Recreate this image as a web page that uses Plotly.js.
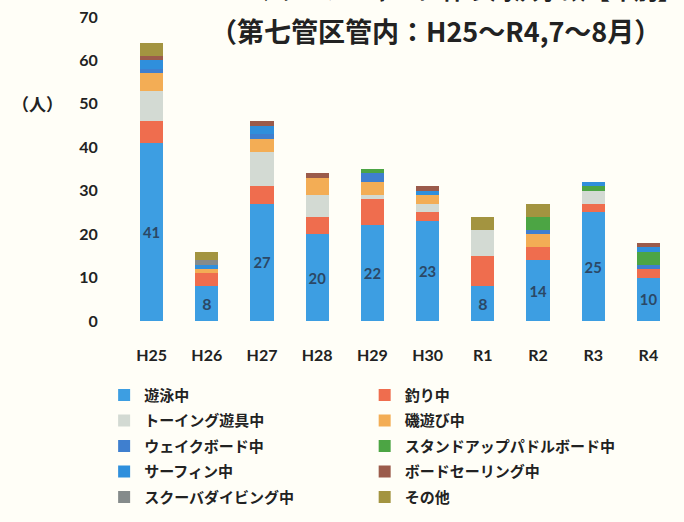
<!DOCTYPE html>
<html><head><meta charset="utf-8">
<script src="https://cdn.plot.ly/plotly-3.0.1.min.js"></script>
<style>html,body{margin:0;padding:0;background:#fffef7;}</style>
</head><body><div id="chart" style="width:684px;height:522px;"></div>
<script>
const years = ['H25','H26','H27','H28','H29','H30','R1','R2','R3','R4'];
const seriesNames = ['遊泳中','釣り中','トーイング遊具中','磯遊び中','ウェイクボード中','スタンドアップパドルボード中','サーフィン中','ボードセーリング中','スクーバダイビング中','その他'];
const swimming     = [41, 8, 27, 20, 22, 23, 8, 14, 25, 10];
const fishing      = [ 5, 3,  4,  4,  6,  2, 7,  3,  2,  2];
const towing       = [ 7, 0,  8,  5,  1,  2, 6,  0,  3,  0];
const isoasobi     = [ 4, 1,  3,  4,  3,  2, 0,  3,  0,  0];
const wakeboard    = [ 1, 0,  1,  0,  2,  0, 0,  1,  0,  1];
const sup          = [ 0, 0,  0,  0,  1,  0, 0,  3,  1,  3];
const surfing      = [ 2, 1,  2,  0,  0,  1, 0,  0,  1,  1];
const boardsailing = [ 1, 0,  1,  1,  0,  1, 0,  0,  0,  1];
const scuba        = [ 0, 1,  0,  0,  0,  0, 0,  0,  0,  0];
const other        = [ 3, 2,  0,  0,  0,  0, 3,  3,  0,  0];
const yTicks = [0,10,20,30,40,50,60,70];

const values = [swimming,fishing,towing,isoasobi,wakeboard,sup,surfing,boardsailing,scuba,other];
const colors = ['#3d9ee2','#ef6d4e','#d3dad3','#f3ad55','#3f7fcf','#4ca544','#2f8fdc','#9b5b4b','#858b8b','#a39440'];

const traces = values.map((v,i)=>({
  type:'bar', x:years, y:v, name:seriesNames[i],
  marker:{color:colors[i], line:{width:0}},
  legend: (i%2===0)?'legend':'legend2',
  legendgroup:'g'+i,
  text: i===0 ? v.map(String) : undefined,
  textposition: i===0 ? 'inside' : 'none',
  insidetextanchor:'middle',
  textfont:{family:'Lato, sans-serif', size:16, weight:'bold', color:'#2b4866'},
  hoverinfo:'x+y+name'
}));

const legendFont = {family:'"Noto Sans CJK JP", sans-serif', size:15, weight:'bold', color:'#222'};
const layout = {
  width:684, height:522,
  paper_bgcolor:'#fffef7', plot_bgcolor:'#fffef7',
  barmode:'stack', bargap:0.58,
  margin:{l:124, r:8, t:17, b:197},
  showlegend:true,
  legend:{x:-0.036, y:-0.19, xanchor:'left', yanchor:'top', orientation:'v', font:legendFont,
          traceorder:'grouped', tracegroupgap:3, bgcolor:'rgba(0,0,0,0)'},
  legend2:{x:0.436, y:-0.19, xanchor:'left', yanchor:'top', orientation:'v', font:legendFont,
          traceorder:'grouped', tracegroupgap:3, bgcolor:'rgba(0,0,0,0)'},
  xaxis:{type:'category', showgrid:false, zeroline:false, showline:false,
         ticks:'outside', ticklen:20, tickcolor:'rgba(0,0,0,0)',
         tickfont:{family:'Lato, sans-serif', size:16, weight:'bold', color:'#222'}},
  yaxis:{range:[0,70], tickvals:yTicks, showgrid:false, zeroline:false, showline:false,
         ticks:'outside', ticklen:22, tickcolor:'rgba(0,0,0,0)',
         tickfont:{family:'Lato, sans-serif', size:16, weight:'bold', color:'#222'}},
  annotations:[
    {text:'（第七管区管内：H25～R4,7～8月）', xref:'paper', yref:'paper', x:0.565, y:0.955,
     xanchor:'center', yanchor:'middle', showarrow:false,
     font:{family:'"Noto Sans CJK JP", sans-serif', size:27, weight:'bold', color:'#222'}},
    {text:'マリンレジャーに伴う海浜事故【年別】', xref:'paper', yref:'paper', x:1.015, y:1.03,
     xanchor:'right', yanchor:'bottom', showarrow:false,
     font:{family:'"Noto Sans CJK JP", sans-serif', size:24, weight:'bold', color:'#222'}},
    {text:'（人）', xref:'paper', yref:'paper', x:-0.156, y:0.715,
     xanchor:'center', yanchor:'middle', showarrow:false,
     font:{family:'"Noto Sans CJK JP", sans-serif', size:17, weight:'bold', color:'#222'}}
  ]
};
Plotly.newPlot('chart', traces, layout, {displayModeBar:false, staticPlot:true});
</script></body></html>
